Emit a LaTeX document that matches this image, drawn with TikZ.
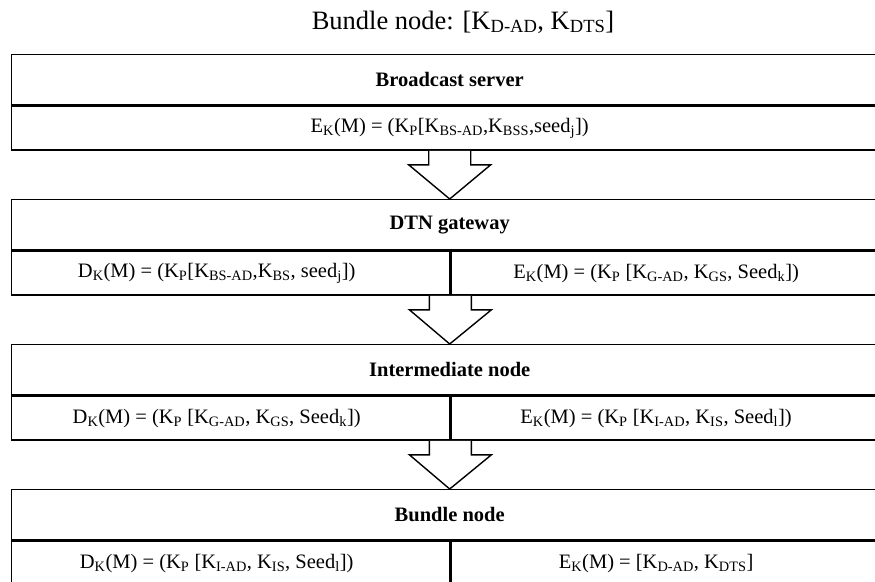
\documentclass[tikz,border=0pt]{standalone}
\usepackage{fontspec}
\setmainfont{Liberation Serif}
\usetikzlibrary{calc}

\newcommand{\lo}[1]{\textsubscript{#1}}

\tikzset{
  titlebox/.style={draw,line width=1.4pt,anchor=north west,inner sep=0pt,
    minimum width=876pt,minimum height=50pt,font=\fontsize{20.5}{24}\selectfont\bfseries},
  fullcell/.style={draw,line width=1.4pt,anchor=north west,inner sep=0pt,
    minimum width=876pt,minimum height=44pt,font=\fontsize{20.5}{24}\selectfont},
  halfcell/.style={draw,line width=1.4pt,anchor=north west,inner sep=0pt,
    minimum width=438pt,minimum height=44pt},
  celltext/.style={inner sep=0pt,xshift=-14pt,font=\fontsize{20.5}{24}\selectfont},
  blockarrow/.style={draw,line width=1.4pt,fill=white,line join=miter}
}

\begin{document}
\begin{tikzpicture}[x=1pt,y=-1pt]
\useasboundingbox (0,0) rectangle (875,581);
\clip (0,0) rectangle (875,581);

%
% Heading
%
\node[font=\fontsize{26.5}{30}\selectfont] (head) at (463,22)
  {Bundle node: [K\lo{D-AD}, K\lo{DTS}]};

%
% Broadcast server
%
\node[titlebox] (bs) at (11,54) {Broadcast server};
\node[fullcell] (bsenc) at (bs.south west)
  {E\lo{K}(M) = (K\lo{P}[K\lo{BS-AD},K\lo{BSS},seed\lo{j}])};

%
% DTN gateway
%
\node[titlebox] (gw) at (11,199) {DTN gateway};
\node[halfcell] (gwdec) at (gw.south west) {};
\node[halfcell] (gwenc) at (gwdec.north east) {};
\node[celltext] (gwdect) at (gwdec.center)
  {D\lo{K}(M) = (K\lo{P}[K\lo{BS-AD},K\lo{BS}, seed\lo{j}])};
\node[celltext] (gwenct) at (gwenc.center)
  {E\lo{K}(M) = (K\lo{P} [K\lo{G-AD}, K\lo{GS}, Seed\lo{k}])};

%
% Intermediate node
%
\node[titlebox] (im) at (11,344) {Intermediate node};
\node[halfcell] (imdec) at (im.south west) {};
\node[halfcell] (imenc) at (imdec.north east) {};
\node[celltext] (imdect) at (imdec.center)
  {D\lo{K}(M) = (K\lo{P} [K\lo{G-AD}, K\lo{GS}, Seed\lo{k}])};
\node[celltext] (imenct) at (imenc.center)
  {E\lo{K}(M) = (K\lo{P} [K\lo{I-AD}, K\lo{IS}, Seed\lo{l}])};

%
% Bundle node
%
\node[titlebox] (bn) at (11,489) {Bundle node};
\node[halfcell] (bndec) at (bn.south west) {};
\node[halfcell] (bnenc) at (bndec.north east) {};
\node[celltext] (bndect) at (bndec.center)
  {D\lo{K}(M) = (K\lo{P} [K\lo{I-AD}, K\lo{IS}, Seed\lo{l}])};
\node[celltext] (bnenct) at (bnenc.center)
  {E\lo{K}(M) = [K\lo{D-AD}, K\lo{DTS}]};

%
% Block arrows between the stages
%
\draw[blockarrow] ($(bsenc.south)+(-21,0)$) |- ($(bsenc.south)+(-41,14)$)
  -- (gw.north) -- ($(bsenc.south)+(41,14)$) -| ($(bsenc.south)+(21,0)$);
\draw[blockarrow] ($(gwdec.south east)+(-21,0)$) |- ($(gwdec.south east)+(-41,14)$)
  -- (im.north) -- ($(gwdec.south east)+(41,14)$) -| ($(gwdec.south east)+(21,0)$);
\draw[blockarrow] ($(imdec.south east)+(-21,0)$) |- ($(imdec.south east)+(-41,14)$)
  -- (bn.north) -- ($(imdec.south east)+(41,14)$) -| ($(imdec.south east)+(21,0)$);

\end{tikzpicture}
\end{document}
